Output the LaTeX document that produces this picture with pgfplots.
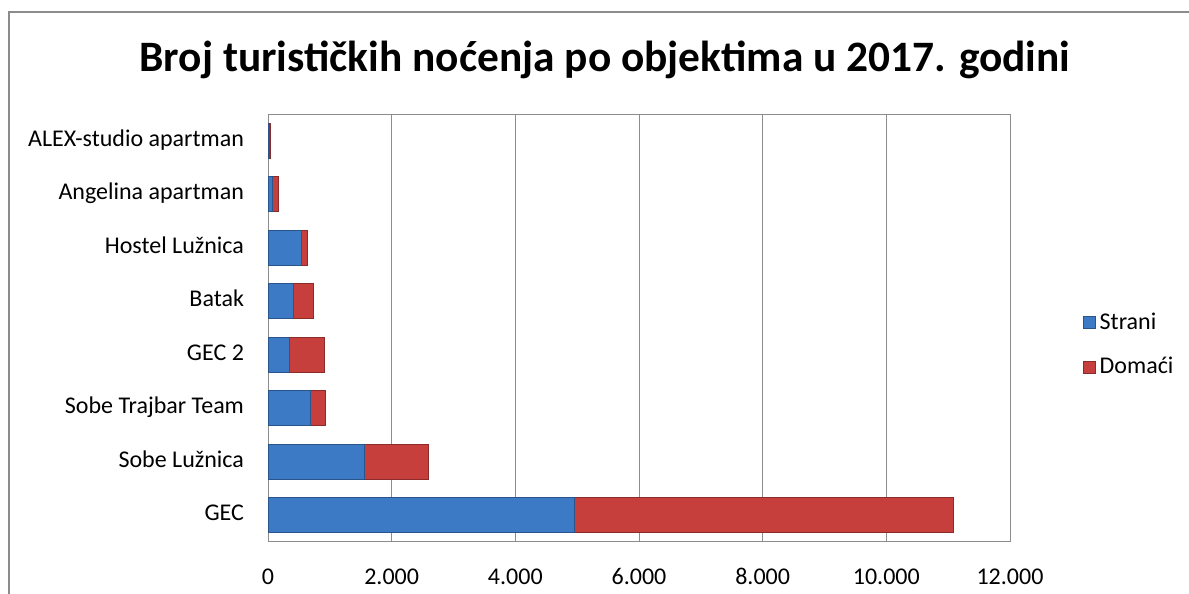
\documentclass[border=0pt]{standalone}
\usepackage{pgfplots}
\pgfplotsset{compat=1.18}
\usepackage{fontspec}
\setmainfont{Carlito}

\definecolor{stranicol}{HTML}{3C7AC6}
\definecolor{domacicol}{HTML}{C63F3C}
\definecolor{gridgray}{HTML}{8C8C8C}

\begin{document}
\begin{tikzpicture}
\useasboundingbox (0,0) rectangle (594.5pt,297pt);
% chart frame (only top and left edges are inside the picture)
\draw[gridgray, line width=1pt] (4.5pt,0) -- (4.5pt,291pt) -- (594.5pt,291pt);
\node[font=\fontsize{21.7}{23}\selectfont\bfseries] at (302.5pt,267pt)
  {Broj turističkih noćenja po objektima u 2017. godini};

\begin{axis}[
    at={(134pt,26pt)}, anchor=south west,
    scale only axis, width=371pt, height=214pt,
    xbar stacked, bar width=17.5pt,
    xmin=0, xmax=12000, ymin=-0.5, ymax=7.5,
    xtick={0,2000,...,12000},
    ytick={0,...,7},
    yticklabels={GEC, Sobe Lužnica, Sobe Trajbar Team, GEC 2, Batak,
                 Hostel Lužnica, Angelina apartman, ALEX-studio apartman},
    scaled x ticks=false,
    /pgf/number format/.cd, 1000 sep={.}, assume math mode=true, /pgfplots/.cd,
    tick label style={font=\fontsize{12}{14}\selectfont},
    typeset ticklabels with strut,
    yticklabel style={xshift=-8.5pt},
    xticklabel style={yshift=-8pt},
    major tick length=0pt,
    xmajorgrids, grid style={gridgray, line width=0.5pt},
    axis line style={gridgray, line width=0.5pt},
    legend style={at={(1.098,0.461)}, anchor=west, draw=none, fill=none,
                  font=\fontsize{12}{14}\selectfont, row sep=8.5pt,
                  inner sep=0pt},
    legend cell align=left,
    legend image code/.code={\path[#1] (0pt,-3pt) rectangle (6pt,3pt);},
]
\addplot[draw=stranicol!70!black, line width=0.3pt, fill=stranicol]
  coordinates {(4955,0) (1560,1) (680,2) (345,3) (410,4) (545,5) (70,6) (20,7)};
\addplot[draw=domacicol!70!black, line width=0.3pt, fill=domacicol]
  coordinates {(6120,0) (1025,1) (247,2) (561,3) (323,4) (97,5) (100,6) (25,7)};
\legend{Strani, Domaći}
\end{axis}
\end{tikzpicture}
\end{document}
